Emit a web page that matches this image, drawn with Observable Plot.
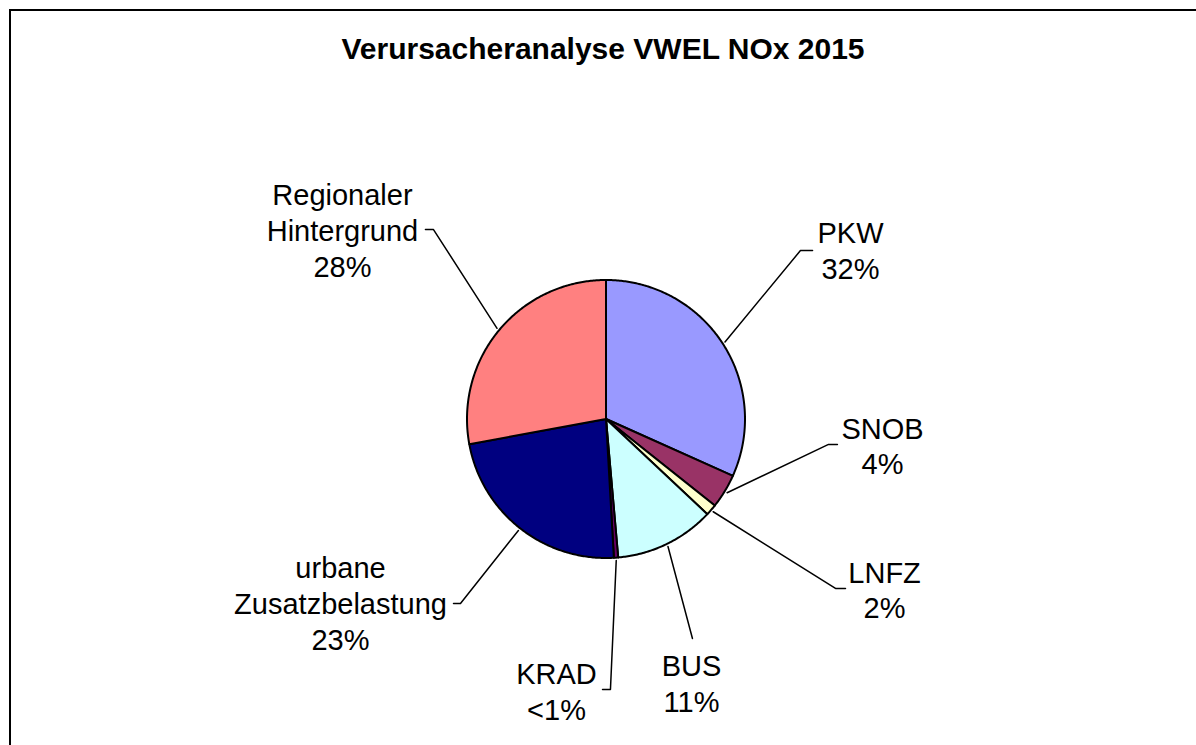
<!DOCTYPE html>
<html><head><meta charset="utf-8">
<script src="https://cdn.jsdelivr.net/npm/d3@7"></script>
<script src="https://cdn.jsdelivr.net/npm/@observablehq/plot@0.6"></script>
<style>
html,body{margin:0;padding:0;background:#fff;}
#wrap{position:relative;width:1196px;height:745px;overflow:hidden;font-family:"Liberation Sans",Arial,sans-serif;}
#chart{position:absolute;left:0;top:0;}
#frame{position:absolute;left:9px;top:9px;width:2000px;height:2000px;border-left:2px solid #000;border-top:2px solid #000;}
#title{position:absolute;top:32px;left:0;width:1206px;text-align:center;font-weight:bold;font-size:30px;color:#000;}
</style></head><body>
<div id="wrap"><div id="chart"></div><div id="frame"></div><div id="title">Verursacheranalyse VWEL NOx 2015</div></div>
<script>
// ---- data ----
const categories = ["PKW", "SNOB", "LNFZ", "BUS", "KRAD", "urbane Zusatzbelastung", "Regionaler Hintergrund"];
const labelNames = ["PKW", "SNOB", "LNFZ", "BUS", "KRAD", "urbane\nZusatzbelastung", "Regionaler\nHintergrund"];
const shares = [31.7, 4.0, 1.3, 11.6, 0.5, 23.0, 27.9];
const shareLabels = ["32%", "4%", "2%", "11%", "<1%", "23%", "28%"];
const colors = ["#9999FF", "#993366", "#FFFFCC", "#CCFFFF", "#660066", "#000080", "#FF8080"];

// ---- label layout (in pie-radius units, y up) ----
const labelPos = [[1.759, 1.219], [1.989, -0.187], [2.004, -1.223], [0.615, -1.896], [-0.356, -1.953], [-1.910, -1.320], [-1.896, 1.363]];
const leaderElbow = [[1.399, 1.212], [1.601, -0.183], [1.651, -1.219], [0.622, -1.579], [0.032, -1.946], [-1.047, -1.327], [-1.241, 1.363]];
const leaderTick = [0.087, 0.064, 0.072, 0, -0.057, -0.050, -0.058];

// ---- geometry from data ----
const W = 1196, H = 745, R = 139, CX = 605.5, CY = 418.5;
const arcs = d3.pie().sort(null).value(d => d)(shares);
const slicePts = [];
arcs.forEach((a, i) => {
  const n = Math.max(2, Math.ceil((a.endAngle - a.startAngle) / 0.01));
  slicePts.push({k: categories[i], x: 0, y: 0});
  for (let j = 0; j <= n; j++) {
    const t = a.startAngle + (a.endAngle - a.startAngle) * j / n;
    slicePts.push({k: categories[i], x: Math.sin(t), y: Math.cos(t)});
  }
  slicePts.push({k: categories[i], x: 0, y: 0});
});
const leaderPts = [];
arcs.forEach((a, i) => {
  const m = (a.startAngle + a.endAngle) / 2;
  const [ex, ey] = leaderElbow[i];
  if (leaderTick[i] !== 0) leaderPts.push({k: categories[i], x: ex + leaderTick[i], y: ey});
  leaderPts.push({k: categories[i], x: ex, y: ey});
  leaderPts.push({k: categories[i], x: 1.02 * Math.sin(m), y: 1.02 * Math.cos(m)});
});
const labels = categories.map((c, i) => ({
  k: c, x: labelPos[i][0], y: labelPos[i][1], text: labelNames[i] + "\n" + shareLabels[i]
}));

const chart = Plot.plot({
  width: W, height: H,
  margin: 0,
  style: {background: "none", overflow: "visible", fontFamily: "'Liberation Sans', Arial, sans-serif"},
  x: {domain: [-CX / R, (W - CX) / R], axis: null},
  y: {domain: [-(H - CY) / R, CY / R], axis: null},
  color: {domain: categories, range: colors},
  marks: [
    Plot.line(slicePts, {x: "x", y: "y", z: "k", fill: "k", stroke: "black", strokeWidth: 2, strokeLinejoin: "round", curve: "linear"}),
    Plot.line(leaderPts, {x: "x", y: "y", z: "k", stroke: "black", strokeWidth: 1.5, fill: "none"}),
    Plot.text(labels, {x: "x", y: "y", text: "text", fontSize: 29, lineHeight: 1.24, textAnchor: "middle", lineAnchor: "middle", fill: "black"})
  ]
});
document.getElementById("chart").appendChild(chart);
</script>
</body></html>
